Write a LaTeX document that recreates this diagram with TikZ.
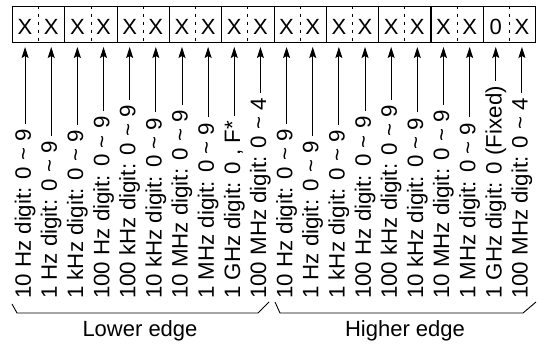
\documentclass[tikz,border=0pt]{standalone}
\usepackage{fontspec}
\setmainfont{Liberation Sans}
\usetikzlibrary{arrows.meta}
\begin{document}
\begin{tikzpicture}[x=1pt,y=1pt,
  lbl/.style={rotate=90,anchor=west,inner sep=0pt,font=\fontsize{22.3}{24}\selectfont},
  dig/.style={inner sep=0pt,font=\fontsize{22}{24}\selectfont},
  cell/.style={draw,line width=1.1pt,minimum width=52.3pt,minimum height=36pt,inner sep=0pt,anchor=south west},
  conn/.style={line width=0.9pt,-{Stealth[length=11pt,width=7pt,inset=2pt]},shorten <=5pt},
  divline/.style={line width=0.9pt,dash pattern=on 3pt off 5pt},
  bracel/.style={line width=0.9pt},
  edge/.style={anchor=base,inner sep=0pt,font=\fontsize{22}{24}\selectfont}]
\useasboundingbox (0,0) rectangle (538,345);
% boxes
\foreach \k in {0,...,9}{
  \pgfmathsetmacro\bx{12+52.3*\k}
  \node[cell] (b\k) at (\bx,301.5) {};
  \draw[divline] (b\k.north) -- (b\k.south);
}
% digits
\foreach \i in {1,...,20}{
  \pgfmathsetmacro\xx{12+26.15*(\i-0.5)}
  \ifnum\i=19
    \node[dig] (d\i) at (\xx,318) {0};
  \else
    \node[dig] (d\i) at (\xx,318) {X};
  \fi
}
% labels and arrows
\foreach \i/\t in {
  1/{10 Hz digit: 0 \textasciitilde{} 9},
  2/{1 Hz digit: 0 \textasciitilde{} 9},
  3/{1 kHz digit: 0 \textasciitilde{} 9},
  4/{100 Hz digit: 0 \textasciitilde{} 9},
  5/{100 kHz digit: 0 \textasciitilde{} 9},
  6/{10 kHz digit: 0 \textasciitilde{} 9},
  7/{10 MHz digit: 0 \textasciitilde{} 9},
  8/{1 MHz digit: 0 \textasciitilde{} 9},
  9/{1 GHz digit: 0 , F*},
  10/{100 MHz digit: 0 \textasciitilde{} 4},
  11/{10 Hz digit: 0 \textasciitilde{} 9},
  12/{1 Hz digit: 0 \textasciitilde{} 9},
  13/{1 kHz digit: 0 \textasciitilde{} 9},
  14/{100 Hz digit: 0 \textasciitilde{} 9},
  15/{100 kHz digit: 0 \textasciitilde{} 9},
  16/{10 kHz digit: 0 \textasciitilde{} 9},
  17/{10 MHz digit: 0 \textasciitilde{} 9},
  18/{1 MHz digit: 0 \textasciitilde{} 9},
  19/{1 GHz digit: 0 (Fixed)},
  20/{100 MHz digit: 0 \textasciitilde{} 4}}{
  \pgfmathsetmacro\xx{12+26.15*(\i-0.5)}
  \node[lbl] (l\i) at (\xx,46) {\t};
  \coordinate (t\i) at (\xx,298);
  \draw[conn] (l\i.east) -- (t\i);
}
% braces
\coordinate (bl1) at (12,41);
\coordinate (bl2) at (17,32);
\coordinate (bl3) at (258,32);
\coordinate (bl4) at (269,43);
\coordinate (bh1) at (275,43);
\coordinate (bh2) at (280,32);
\coordinate (bh3) at (523,32);
\coordinate (bh4) at (536,43);
\draw[bracel] (bl1) -- (bl2) -- (bl3) -- (bl4);
\draw[bracel] (bh1) -- (bh2) -- (bh3) -- (bh4);
\node[edge] (low) at (140,8) {Lower edge};
\node[edge] (high) at (405,8) {Higher edge};
\end{tikzpicture}
\end{document}
